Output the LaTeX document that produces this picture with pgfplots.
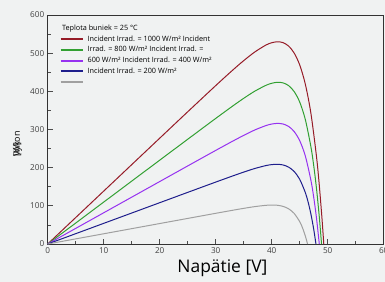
\documentclass[border=0pt]{standalone}
\usepackage{pgfplots}
\pgfplotsset{compat=1.18}
\usepackage{fontspec}
\setmainfont{Open Sans}
\definecolor{bgc}{RGB}{240,242,242}
\definecolor{cred}{RGB}{150,28,40}
\definecolor{cgreen}{RGB}{50,160,50}
\definecolor{cpurple}{RGB}{150,50,240}
\definecolor{cblue}{RGB}{30,30,140}
\definecolor{cgray}{RGB}{160,160,160}
\begin{document}
\begin{tikzpicture}
\path[fill=bgc,use as bounding box] (-47.7bp,-38bp) rectangle (337.3bp,244bp);
\begin{axis}[
  at={(0,0)}, anchor=origin,
  scale only axis, width=336bp, height=229bp,
  xmin=0, xmax=60, ymin=0, ymax=600,
  xtick={0,10,...,60}, ytick={0,100,...,600},
  minor x tick num=1, minor y tick num=1,
  tick pos=left, tick align=inside,
  major tick length=5bp, minor tick length=3bp,
  every tick/.style={black!70, line width=0.7bp},
  axis line style={black!80, line width=1bp},
  axis background/.style={fill=bgc},
  ticklabel style={font=\fontsize{8.2}{9}\selectfont, text=black!75},
  /pgf/number format/assume math mode=true,
  xlabel={Napätie [V]},
  xlabel style={font=\fontsize{17.5}{20}\selectfont, at={(axis description cs:0.52,0)}, anchor=north, yshift=-12bp},
  ylabel={\rlap{[W]}Výkon},
  ylabel style={font=\fontsize{9}{10}\selectfont, at={(axis description cs:-0.09,0.437)}, anchor=center},
  legend cell align=left,
  legend image code/.code={\draw[#1, line width=1.8bp] (0bp,0bp) -- (22bp,0bp);},
  legend style={at={(axis description cs:0.036,0.916)}, anchor=north west, draw=none, fill=none,
    inner sep=0pt, outer sep=0pt,
    font=\fontsize{7.3}{8}\selectfont, row sep=0.7bp,
    nodes={inner sep=1.5bp, text height=5.5bp, text depth=1.5bp},
    /tikz/every odd column/.append style={column sep=2.5bp}},
  clip=false,
]
\addplot[cred, line width=1bp, smooth] coordinates {
(0,0) (5,69.3) (10,138.6) (15,207.9) (20,277.2) (25,346.4) (30,415.0) (33,455.1) (35,480.4) (37,503.3) (39,521.5) (40,527.3) (41,529.9) (42,527.7) (43,518.9) (44,500.7) (45,469.3) (46,419.1) (47,342.6) (48,229.1) (48.5,153.9) (49,63.0) (49.3,0)};
\addlegendentry{Incident Irrad. = 1000 W/m² Incident}
\addplot[cgreen, line width=1bp, smooth] coordinates {
(0,0) (5,54.9) (10,109.8) (15,164.7) (20,219.6) (25,274.4) (30,329.0) (33,361.1) (35,381.7) (37,400.6) (39,415.9) (40,421.1) (41,423.7) (42,422.3) (43,415.2) (44,399.7) (45,372.0) (46,326.4) (47,254.9) (47.5,205.8) (48,145.3) (48.5,71.1) (48.9,0)};
\addlegendentry{Irrad. = 800 W/m² Incident Irrad. =}
\addplot[cpurple, line width=1bp, smooth] coordinates {
(0,0) (5,40.9) (10,81.8) (15,122.7) (20,163.6) (25,204.5) (30,245.2) (33,269.2) (35,284.6) (37,298.9) (39,310.4) (40,314.3) (41,316.0) (42,314.5) (43,308.3) (44,294.9) (45,270.8) (46,230.9) (47,167.1) (47.5,122.9) (48,67.9) (48.5,0)};
\addlegendentry{600 W/m² Incident Irrad. = 400 W/m²}
\addplot[cblue, line width=1bp, smooth] coordinates {
(0,0) (5,27.05) (10,54.1) (15,81.15) (20,108.2) (25,135.25) (30,162.2) (33,178.1) (35,188.4) (37,197.9) (39,205.6) (40,208.0) (41,208.8) (42,207.2) (43,201.6) (44,190.2) (45,169.6) (46,135.0) (46.5,110.2) (47,78.7) (47.5,39.0) (47.9,0)};
\addlegendentry{Incident Irrad. = 200 W/m²}
\addplot[cgray, line width=1bp, smooth] coordinates {
(0,0) (5,13.4) (10,26.8) (15,40.2) (20,53.6) (25,67.0) (30,80.4) (33,88.3) (35,93.4) (37,98.0) (39,101.4) (40,102.1) (41,101.5) (42,98.7) (43,92.4) (44,80.3) (45,58.7) (45.5,42.5) (46,21.3) (46.4,0)};
\addlegendentry{}
\node[anchor=west, font=\fontsize{7.3}{8}\selectfont, inner sep=0pt] at (axis description cs:0.042,0.939) {Teplota buniek = 25 °C};
\end{axis}
\end{tikzpicture}
\end{document}
